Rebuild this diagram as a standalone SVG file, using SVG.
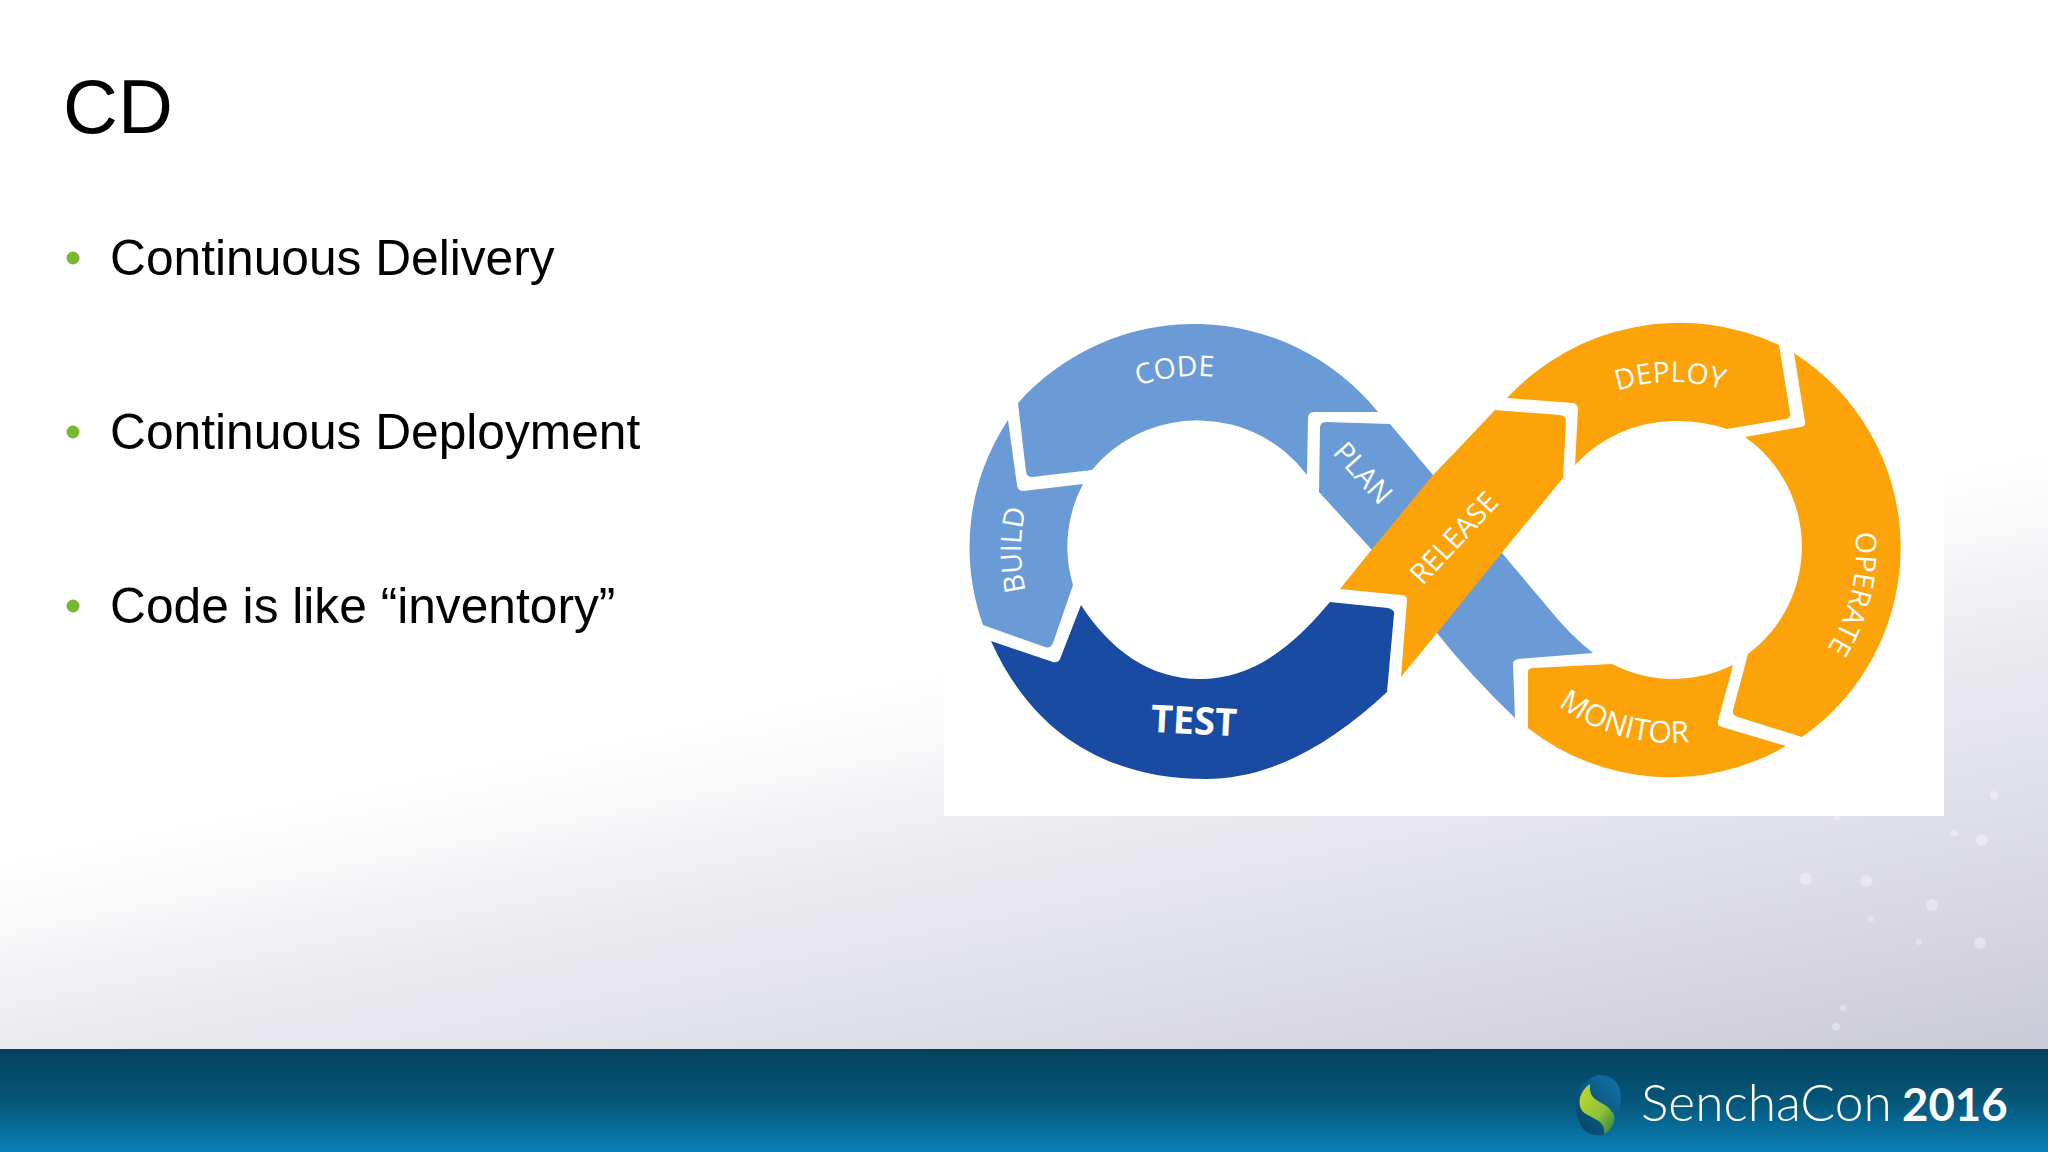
<svg xmlns="http://www.w3.org/2000/svg" width="2048" height="1152" viewBox="0 0 2048 1152">
<style>
.lb{fill:#6b9bd7}.db{fill:#1a4ba3}.or{fill:#fba309}
.h{font-family:"Liberation Sans",Arial,sans-serif;fill:#000}
.b{font-size:49.7px}
.lab{font-family:"Open Sans",sans-serif;fill:#fff;font-size:28.5px;text-anchor:middle}
.dot{fill:#fff;opacity:.35}
.bul{fill:#7ab834}
</style>
<defs>
<linearGradient id="bg" gradientUnits="userSpaceOnUse" x1="0" y1="860" x2="114" y2="1431">
<stop offset="0" stop-color="#fff"/><stop offset=".08" stop-color="#fbfbfc"/><stop offset=".316" stop-color="#eaeaef"/><stop offset=".63" stop-color="#ddddE6"/><stop offset="1" stop-color="#cbcad8"/>
</linearGradient>
<linearGradient id="ft" x1="0" y1="0" x2="0" y2="1">
<stop offset="0" stop-color="#06415f"/><stop offset=".5" stop-color="#055678"/><stop offset="1" stop-color="#0a80b8"/>
</linearGradient>
<linearGradient id="lg" x1="0" y1="0" x2="1" y2="1">
<stop offset="0" stop-color="#c8d92c"/><stop offset=".6" stop-color="#8cc13a"/><stop offset="1" stop-color="#2f7a3a"/>
</linearGradient>
<linearGradient id="lb2" x1="1" y1="0" x2="0" y2="1">
<stop offset="0" stop-color="#1273ac"/><stop offset="1" stop-color="#07415f"/>
</linearGradient>
<path id="arcCode" d="M1021 552A176 176 0 0 1 1373 552"/>
<path id="arcBuild" d="M1021 550A179 179 0 0 1 1379 550"/>
<path id="arcDeploy" d="M1504 550A168 168 0 0 1 1840 550"/>
<path id="arcOperate" d="M1488 550A184 184 0 0 1 1856 550"/>
<path id="arcMonitor" d="M1479 550A193 193 0 0 0 1865 550"/>
</defs>
<rect id="background" width="2048" height="1152" fill="url(#bg)"/>
<g id="sparkles">
<circle class="dot" cx="1994" cy="795" r="4"/><circle class="dot" cx="1954" cy="833" r="3.5"/><circle class="dot" cx="1982" cy="840" r="6"/>
<circle class="dot" cx="1806" cy="879" r="6"/><circle class="dot" cx="1866" cy="881" r="6"/><circle class="dot" cx="1932" cy="905" r="6"/>
<circle class="dot" cx="1871" cy="919" r="3"/><circle class="dot" cx="1919" cy="942" r="3"/><circle class="dot" cx="1980" cy="943" r="6"/>
<circle class="dot" cx="1843" cy="1008" r="3"/><circle class="dot" cx="1836" cy="1027" r="4"/><circle class="dot" cx="1837" cy="818" r="3"/>
</g>
<rect id="footer" y="1049" width="2048" height="103" fill="url(#ft)"/>
<text id="title" class="h" x="63" y="133" font-size="76">CD</text>
<g id="bullets">
<circle class="bul" cx="73" cy="258" r="6.5"/><text class="h b" x="110" y="275">Continuous Delivery</text>
<circle class="bul" cx="73" cy="432" r="6.5"/><text class="h b" x="110" y="449">Continuous Deployment</text>
<circle class="bul" cx="73" cy="606" r="6.5"/><text class="h b" x="110" y="623">Code is like “inventory”</text>
</g>
<rect id="image-panel" x="944" y="300" width="1000" height="516" fill="#fff"/>
<g id="connectors"></g>
<g id="plan">
<path class="lb" d="M1320 428Q1320 422 1326 422L1390 424L1433 475L1502 553L1550 610Q1570 635 1593 653L1518 659Q1513 660 1513 664L1515 718Q1470 675 1437 633L1372 550L1319 492Z"/>
<text class="lab" transform="translate(1363 473) rotate(48)" y="10">PLAN</text>
</g>
<g id="code">
<path class="lb" d="M1018 403A236 236 0 0 1 1378 412L1314 412Q1308 412 1308 418L1307 475A137 137 0 0 0 1092 470L1032 477Q1027 477 1026 472Z"/>
<text class="lab" transform="rotate(-7 1197 552)"><textPath href="#arcCode" startOffset="50%">CODE</textPath></text>
</g>
<g id="build">
<path class="lb" d="M1008 420L1017 485Q1018 491 1023 491L1083 484A133 133 0 0 0 1073 585L1053 643Q1050 649 1045 647L983 625A230 230 0 0 1 1008 420Z"/>
<text class="lab" transform="rotate(-90 1200 550)"><textPath href="#arcBuild" startOffset="50%">BUILD</textPath></text>
</g>
<g id="test">
<path class="db" d="M991 641L1053 662Q1058 663 1060 659L1081 605C1110 650 1150 679 1200 679C1250 679 1290 650 1330 602L1388 608Q1395 610 1394 614L1387 692C1330 745 1270 779 1206 779C1115 779 1035 740 991 641Z"/>
<text class="lab" transform="translate(1194 720) rotate(3)" y="14" font-weight="700" style="font-size:38px">TEST</text>
</g>
<g id="release">
<path class="or" d="M1495 410L1560 415Q1566 416 1566 421L1563 478L1500 555L1437 633L1401 677L1407 600Q1407 595 1401 595L1340 589L1373 548L1433 475L1460 447Z"/>
<text class="lab" transform="translate(1454 538) rotate(-47)" y="10">RELEASE</text>
</g>
<g id="deploy">
<path class="or" d="M1507 398A235 235 0 0 1 1779 345L1790 413Q1791 418 1786 419L1727 429Q1700 420 1673 421A136 136 0 0 0 1575 465L1578 409Q1578 404 1573 403Z"/>
<text class="lab" transform="rotate(-0.7 1672 550)"><textPath href="#arcDeploy" startOffset="50%">DEPLOY</textPath></text>
</g>
<g id="operate">
<path class="or" d="M1794 353L1805 422Q1806 426 1801 427L1745 437A134 134 0 0 1 1748 654L1733 710Q1732 716 1738 717L1802 737A231 231 0 0 0 1794 353Z"/>
<text class="lab" transform="rotate(103.5 1672 550)"><textPath href="#arcOperate" startOffset="50%">OPERATE</textPath></text>
</g>
<g id="monitor">
<path class="or" d="M1528 672Q1528 668 1533 668L1612 664A134 134 0 0 0 1733 665L1718 721Q1717 726 1722 727L1786 746A230 230 0 0 1 1528 728Z"/>
<text class="lab" transform="rotate(15.5 1672 550)" style="font-size:30px"><textPath href="#arcMonitor" startOffset="50%">MONITOR</textPath></text>
</g>
<g id="logo">
<path fill="url(#lb2)" d="M1598 1075C1614 1074 1622 1086 1621 1100C1620 1113 1612 1126 1603 1135C1590 1137 1581 1130 1579 1120C1572 1104 1575 1082 1598 1075Z"/>
<path fill="url(#lg)" d="M1590 1084C1578 1092 1576 1108 1586 1114C1596 1120 1606 1122 1604 1134C1616 1128 1616 1114 1612 1112C1606 1100 1588 1104 1590 1084Z"/>
</g>
<text id="brand" x="1641" y="1121" font-family="Lato,sans-serif" font-size="51.5" font-weight="300" fill="#fff">SenchaCon</text>
<text id="year" x="1902" y="1121" font-family="Lato,sans-serif" font-size="45.5" font-weight="700" fill="#fff">2016</text>
</svg>
